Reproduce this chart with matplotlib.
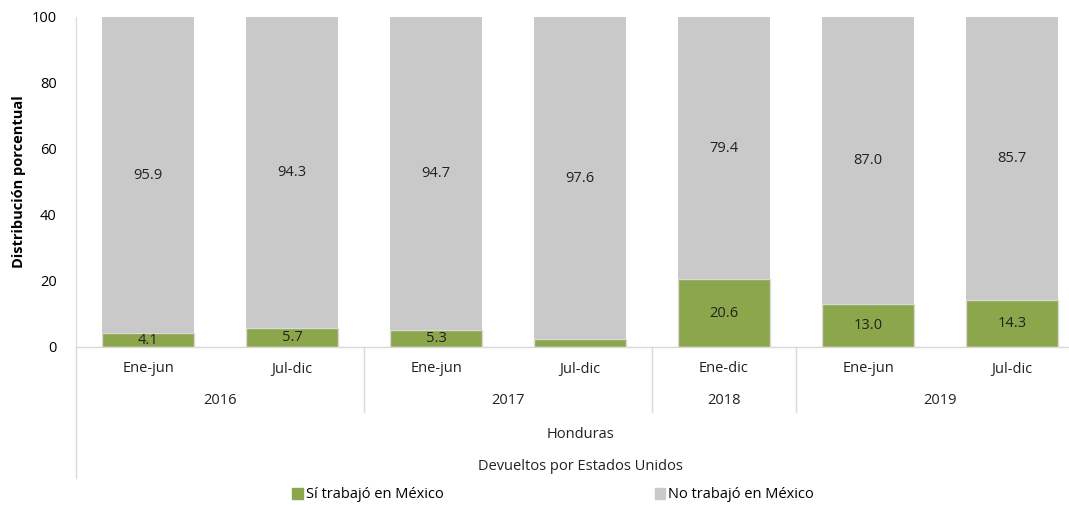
import matplotlib.pyplot as plt
import matplotlib.patches as mpatches
import numpy as np

plt.rcParams['font.family'] = ['Open Sans', 'DejaVu Sans']

# Data
periods = ['Ene-jun', 'Jul-dic', 'Ene-jun', 'Jul-dic', 'Ene-dic', 'Ene-jun', 'Jul-dic']
years = ['2016', '2017', '2018', '2019']
year_sizes = [2, 2, 1, 2]
si_trabajo = [4.1, 5.7, 5.3, 2.4, 20.6, 13.0, 14.3]
no_trabajo = [95.9, 94.3, 94.7, 97.6, 79.4, 87.0, 85.7]
show_si_label = [True, True, True, False, True, True, True]

green = '#8BA64B'
gray = '#C9C9C9'
line_col = '#D9D9D9'
fs = 10.5

W, H = 1069, 505
fig = plt.figure(figsize=(W / 100, H / 100), dpi=100)
# axes runs a bit past the right edge, as in the original
ax = fig.add_axes([76 / W, 1 - 347 / H, 1008 / W, 330 / H])

x = np.arange(len(periods))
ax.bar(x, si_trabajo, width=0.64, color=green, edgecolor=line_col, linewidth=1)
ax.bar(x, no_trabajo, width=0.64, bottom=si_trabajo, color=gray, edgecolor=gray, linewidth=0)

for i in range(len(x)):
    if show_si_label[i]:
        ax.text(x[i], si_trabajo[i] / 2, f'{si_trabajo[i]:.1f}', ha='center', va='center',
                fontsize=fs, color='#222222')
    ax.text(x[i], si_trabajo[i] + no_trabajo[i] / 2, f'{no_trabajo[i]:.1f}', ha='center',
            va='center', fontsize=fs, color='#222222')

ax.set_xlim(-0.5, len(periods) - 0.5)
ax.set_ylim(0, 100)
ax.set_yticks(range(0, 101, 20))
ax.tick_params(axis='y', length=0, labelsize=fs, pad=14)
ax.set_xticks([])
for s in ['top', 'right', 'bottom']:
    ax.spines[s].set_visible(False)
ax.spines['left'].set_color(line_col)
ax.axhline(0, color=line_col, linewidth=1, clip_on=False)
ax.set_ylabel('Distribución porcentual', fontsize=fs, fontweight='bold', labelpad=4)

# multi-level category axis drawn below the plot
trans = ax.get_xaxis_transform()
ax.plot([-0.5, -0.5], [0, -(478 - 347) / 330], transform=trans, color=line_col,
        linewidth=1, clip_on=False)
for i, p in enumerate(periods):
    ax.text(x[i], -(369 - 347) / 330, p, transform=trans, ha='center', va='center',
            fontsize=fs, color='#222222')

start = 0
for yr, n in zip(years, year_sizes):
    mid = start + (n - 1) / 2
    ax.text(mid, -(401 - 347) / 330, yr, transform=trans, ha='center', va='center',
            fontsize=fs, color='#222222')
    if start > 0:
        ax.plot([start - 0.5, start - 0.5], [0, -(412 - 347) / 330], transform=trans,
                color=line_col, linewidth=1, clip_on=False)
    start += n

fig.text(580 / W, 1 - 435 / H, 'Honduras', ha='center', va='center', fontsize=fs, color='#222222')
fig.text(580 / W, 1 - 467 / H, 'Devueltos por Estados Unidos', ha='center', va='center',
         fontsize=fs, color='#222222')

handles = [mpatches.Patch(color=green, label='Sí trabajó en México'),
           mpatches.Patch(color=gray, label='No trabajó en México')]
fig.legend(handles=handles, loc='center', bbox_to_anchor=(553 / W, 1 - 495 / H), ncol=2,
           frameon=False, fontsize=fs, handlelength=0.7, handleheight=0.7,
           handletextpad=0.2, columnspacing=14.5)

fig.savefig('out.png', dpi=100)
